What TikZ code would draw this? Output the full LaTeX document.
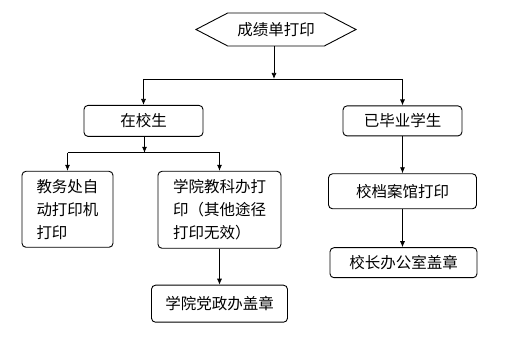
\documentclass[tikz,border=0pt]{standalone}
\usepackage{fontspec}
\setmainfont{Noto Sans CJK SC}
\usepackage{tikz}
\usetikzlibrary{arrows.meta,positioning,calc,shapes.symbols}
\tikzset{
    startbox/.style={
        draw,
        signal,
        signal to=west and east,
        signal pointer angle=55,
        line width=0.9pt,
        font=\fontsize{15.5}{23}\selectfont,
        minimum width=160pt,
        minimum height=33pt,
        inner sep=0pt
    },
    stepbox/.style={
        draw,
        rounded corners=4pt,
        align=left,
        line width=0.9pt,
        font=\fontsize{15.5}{23}\selectfont,
        inner sep=0pt
    },
    flow/.style={
        -{Latex[length=6pt,width=5pt]},
        line width=0.8pt
    },
    joint/.style={
        line width=0.8pt
    }
}

\begin{document}
\begin{tikzpicture}[x=1pt,y=1pt]
        \useasboundingbox (0,0) rectangle (523,-352);

        \node[startbox] (print) at (276,-29.5) {成绩单打印};

        % current students
        \node[stepbox, minimum width=119pt, minimum height=31pt,
              below=58.5pt of print, xshift=-132.5pt] (current) {在校生};

        \node[stepbox, minimum width=91pt, minimum height=76pt,
              below=34pt of current, xshift=-76pt] (office) {
            教务处自\\
            动打印机\\
            打印
        };

        \node[stepbox, minimum width=123pt, minimum height=77pt,
              below=34pt of current, xshift=76pt] (college) {
            学院教科办打\\
            印（其他途径\\
            打印无效）
        };

        \node[stepbox, minimum width=136pt, minimum height=37pt,
              below=36pt of college] (stamp1) {学院党政办盖章};

        % graduates
        \node[stepbox, minimum width=119pt, minimum height=30pt,
              below=59pt of print, xshift=126.5pt] (graduate) {已毕业学生};

        \node[stepbox, minimum width=148pt, minimum height=35pt,
              below=37pt of graduate] (archive) {校档案馆打印};

        \node[stepbox, minimum width=147pt, minimum height=30pt,
              below=38pt of archive, xshift=1pt] (stamp2) {校长办公室盖章};

        \coordinate (split1) at ($(print.south)+(-2,-32.5)$);
        \coordinate (split2) at ($(current.south)+(1,-16)$);

        \draw[flow] (print.south -| split1) -- (split1);
        \draw[joint] (current.north |- split1) -- (graduate.north |- split1);
        \draw[flow] (current.north |- split1) -- (current.north);
        \draw[flow] (graduate.north |- split1) -- (graduate.north);

        \draw[flow] (current.south -| split2) -- (split2);
        \draw[joint] (office.north |- split2) -- (college.north |- split2);
        \draw[flow] (office.north |- split2) -- (office.north);
        \draw[flow] (college.north |- split2) -- (college.north);

        \draw[flow] (college) -- (stamp1);
        \draw[flow] (graduate) -- (archive);
        \draw[flow] (archive.south) -- (archive.south |- stamp2.north);
    \end{tikzpicture}
\end{document}
